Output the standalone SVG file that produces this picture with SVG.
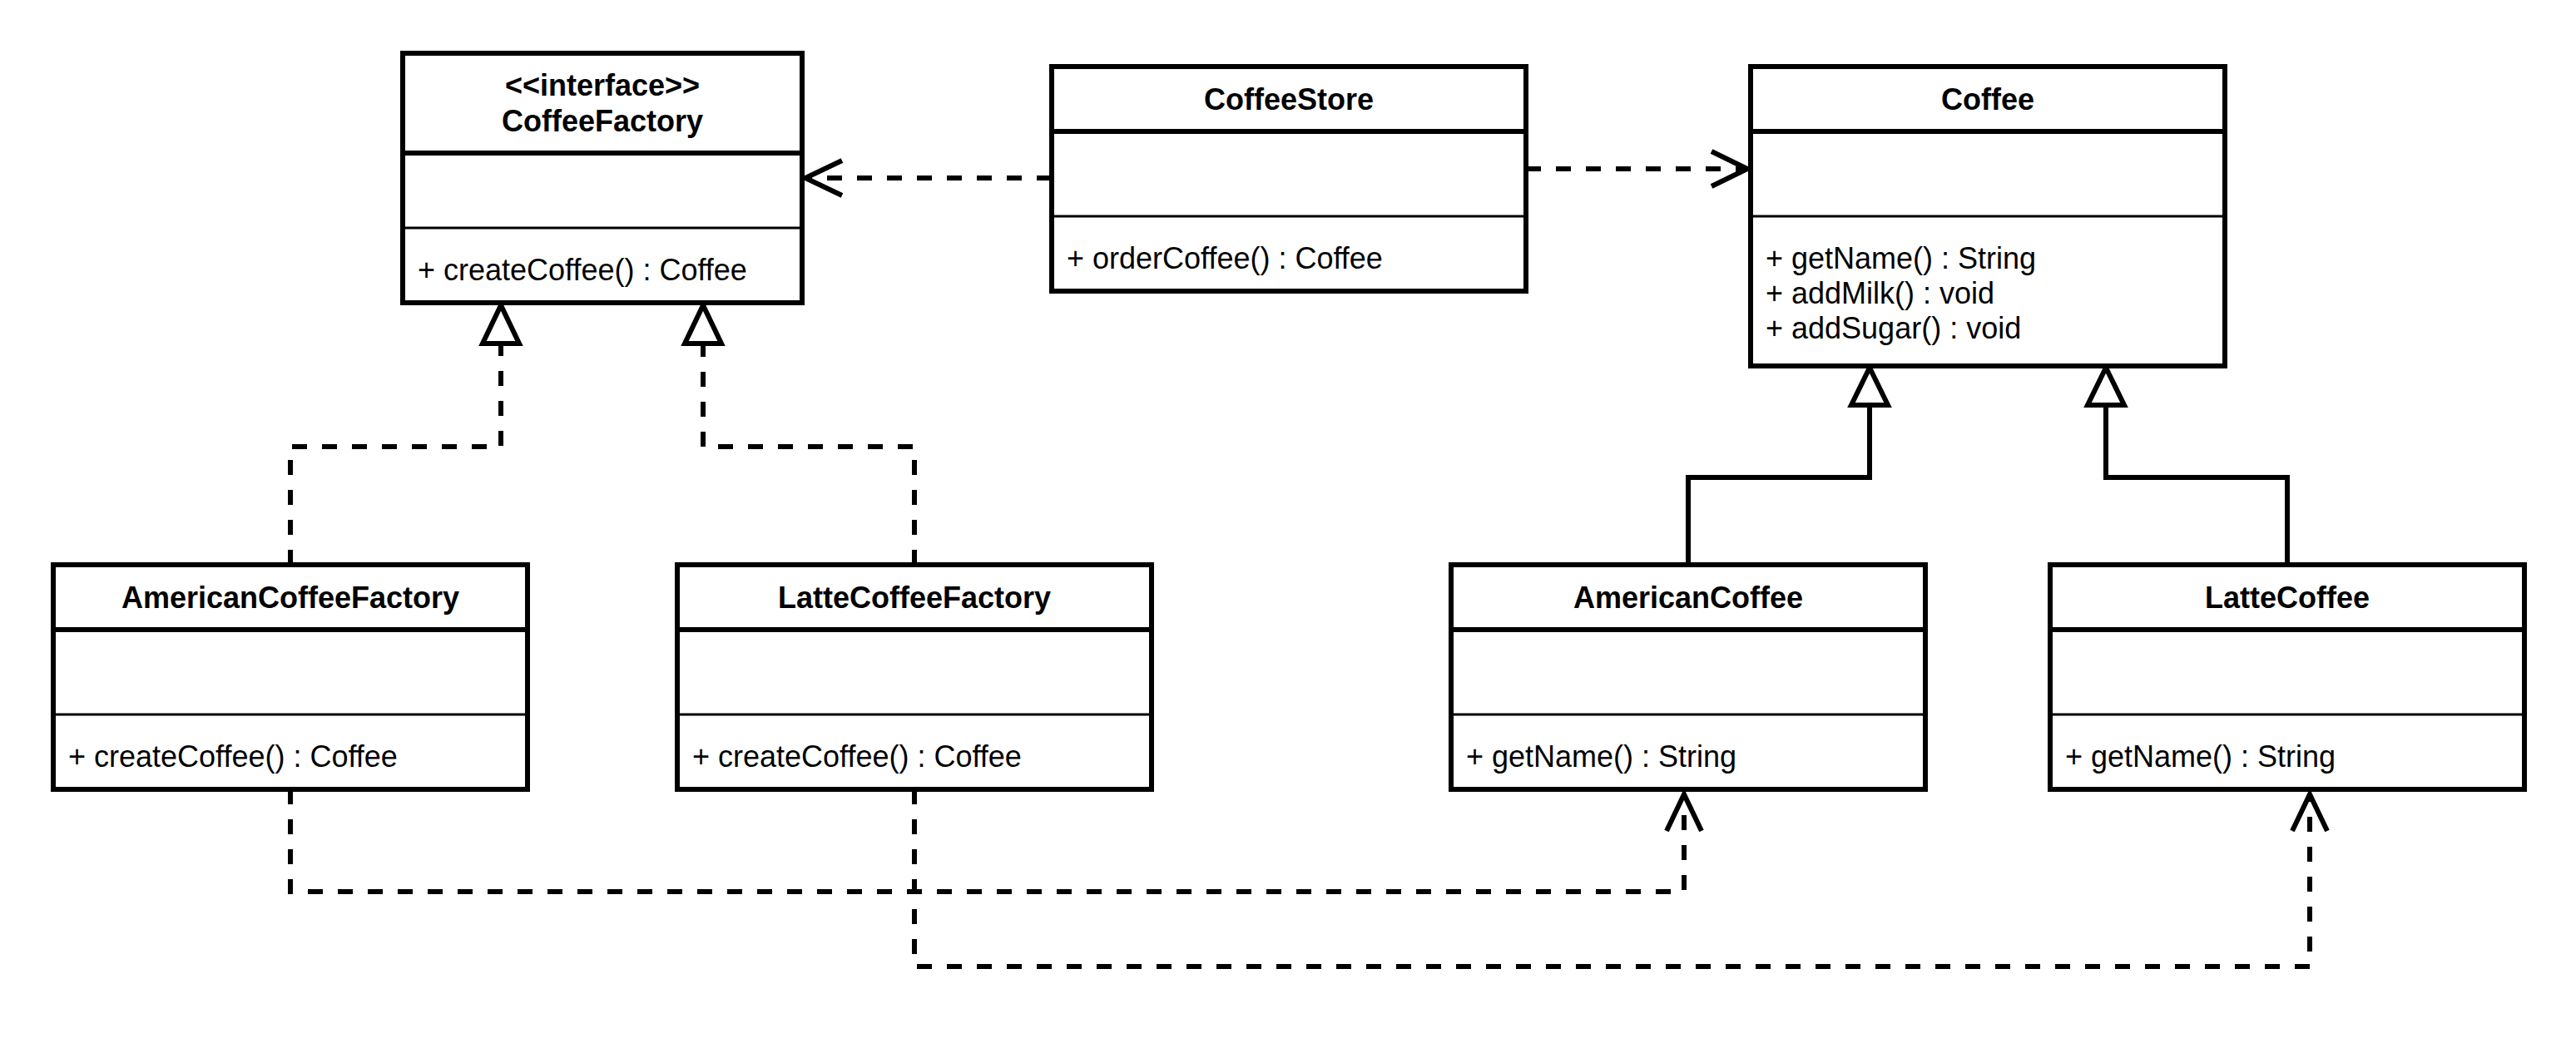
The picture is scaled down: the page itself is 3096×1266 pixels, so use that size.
<svg xmlns="http://www.w3.org/2000/svg" width="3096" height="1266" viewBox="0 0 3096 1266">
<style>
.box{fill:#fff;stroke:#000;stroke-width:6}
.hd{stroke:#000;stroke-width:6}
.dv{stroke:#000;stroke-width:3}
.t{font-family:"Liberation Sans",Arial,sans-serif;font-size:36px;fill:#000}
.b{font-weight:bold;text-anchor:middle}
.e{fill:none;stroke:#000;stroke-width:6}
.d{stroke-dasharray:18 18}
.tri{fill:#fff;stroke:#000;stroke-width:6}
.open{fill:none;stroke:#000;stroke-width:6}
</style>
<rect width="3096" height="1266" fill="#fff"/>
<g id="connectors">
  <path class="e d" d="M1264,214 H968"/>
  <polyline class="open" points="1012,193 968,214 1012,235"/>
  <path class="e d" d="M1834,203 H2100"/>
  <polyline class="open" points="2057,182 2100,203 2057,224"/>
  <path class="e d" d="M349,679 V537 H602 V413"/>
  <polygon class="tri" points="602,367 580,413 624,413"/>
  <path class="e d" d="M1099,679 V537 H845 V413"/>
  <polygon class="tri" points="845,367 823,413 867,413"/>
  <path class="e" d="M2029,679 V574 H2247 V487"/>
  <polygon class="tri" points="2247,442 2225,487 2269,487"/>
  <path class="e" d="M2749,679 V574 H2531 V487"/>
  <polygon class="tri" points="2531,442 2509,487 2553,487"/>
  <path class="e d" d="M349,949 V1072 H2024 V955"/>
  <polyline class="open" points="2003,999 2024,955 2045,999"/>
  <path class="e d" d="M1099,949 V1162 H2776 V955"/>
  <polyline class="open" points="2755,999 2776,955 2797,999"/>
</g>
<g id="CoffeeFactory">
  <rect class="box" x="484" y="64" width="480" height="300"/>
  <line class="hd" x1="484" y1="184" x2="964" y2="184"/>
  <line class="dv" x1="484" y1="274" x2="964" y2="274"/>
  <text class="t b" x="724" y="115">&lt;&lt;interface&gt;&gt;</text>
  <text class="t b" x="724" y="158">CoffeeFactory</text>
  <text class="t" x="502" y="337">+ createCoffee() : Coffee</text>
</g>
<g id="CoffeeStore">
  <rect class="box" x="1264" y="80" width="570" height="270"/>
  <line class="hd" x1="1264" y1="158" x2="1834" y2="158"/>
  <line class="dv" x1="1264" y1="260" x2="1834" y2="260"/>
  <text class="t b" x="1549" y="132">CoffeeStore</text>
  <text class="t" x="1282" y="323">+ orderCoffee() : Coffee</text>
</g>
<g id="Coffee">
  <rect class="box" x="2104" y="80" width="570" height="360"/>
  <line class="hd" x1="2104" y1="158" x2="2674" y2="158"/>
  <line class="dv" x1="2104" y1="260" x2="2674" y2="260"/>
  <text class="t b" x="2389" y="132">Coffee</text>
  <text class="t" x="2122" y="323">+ getName() : String</text>
  <text class="t" x="2122" y="365">+ addMilk() : void</text>
  <text class="t" x="2122" y="407">+ addSugar() : void</text>
</g>
<g id="AmericanCoffeeFactory">
  <rect class="box" x="64" y="679" width="570" height="270"/>
  <line class="hd" x1="64" y1="757" x2="634" y2="757"/>
  <line class="dv" x1="64" y1="859" x2="634" y2="859"/>
  <text class="t b" x="349" y="731">AmericanCoffeeFactory</text>
  <text class="t" x="82" y="922">+ createCoffee() : Coffee</text>
</g>
<g id="LatteCoffeeFactory">
  <rect class="box" x="814" y="679" width="570" height="270"/>
  <line class="hd" x1="814" y1="757" x2="1384" y2="757"/>
  <line class="dv" x1="814" y1="859" x2="1384" y2="859"/>
  <text class="t b" x="1099" y="731">LatteCoffeeFactory</text>
  <text class="t" x="832" y="922">+ createCoffee() : Coffee</text>
</g>
<g id="AmericanCoffee">
  <rect class="box" x="1744" y="679" width="570" height="270"/>
  <line class="hd" x1="1744" y1="757" x2="2314" y2="757"/>
  <line class="dv" x1="1744" y1="859" x2="2314" y2="859"/>
  <text class="t b" x="2029" y="731">AmericanCoffee</text>
  <text class="t" x="1762" y="922">+ getName() : String</text>
</g>
<g id="LatteCoffee">
  <rect class="box" x="2464" y="679" width="570" height="270"/>
  <line class="hd" x1="2464" y1="757" x2="3034" y2="757"/>
  <line class="dv" x1="2464" y1="859" x2="3034" y2="859"/>
  <text class="t b" x="2749" y="731">LatteCoffee</text>
  <text class="t" x="2482" y="922">+ getName() : String</text>
</g>
</svg>
